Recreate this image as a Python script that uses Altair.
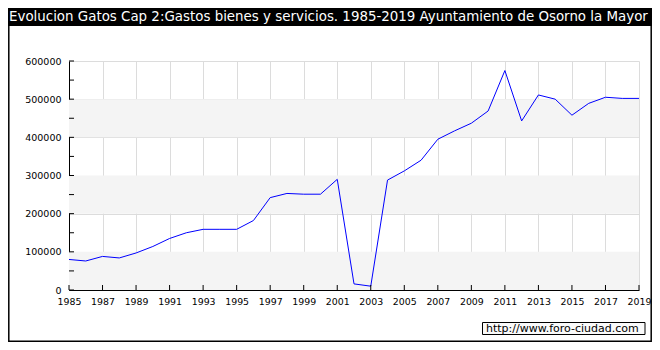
import altair as alt
import pandas as pd

years = list(range(1985, 2020))
values = [80000, 76000, 88000, 84000, 97000, 114000, 135000, 150000, 159000, 159000,
          159000, 182000, 242000, 253000, 251000, 251000, 290000, 16000, 10000, 288000,
          312000, 340000, 395000, 417000, 437000, 469000, 575000, 443000, 511000, 500000,
          458000, 489000, 505000, 502000, 502000]

title_text = "Evolucion Gatos Cap 2:Gastos bienes y servicios. 1985-2019 Ayuntamiento de Osorno la Mayor"
watermark = "http://www.foro-ciudad.com"

band_starts = [0, 200000, 400000]
band_ends = [100000, 300000, 500000]
x_tick_years = list(range(1985, 2020, 2))
y_tick_values = list(range(0, 600001, 50000))
y_label_values = list(range(0, 600001, 100000))

df = pd.DataFrame({"year": years, "value": values})
bands = pd.DataFrame({"y0": band_starts, "y1": band_ends,
                      "x0": [1985] * 3, "x1": [2019] * 3})
xt = pd.DataFrame({"year": x_tick_years})
yt = pd.DataFrame({"v": y_tick_values})
one = pd.DataFrame({"k": [0]})

W, H = 570, 229
PL, PT, PR, PB = 61, 53, 13, 52
FONT = "DejaVu Sans"

xscale = alt.Scale(domain=[1985, 2019], nice=False, zero=False)
yscale = alt.Scale(domain=[0, 600000], nice=False)

xaxis = alt.Axis(values=x_tick_years, tickCount=100, format="d", ticks=False, grid=True,
                 gridColor="#dcdcdc", gridWidth=1, domainColor="#000000",
                 domainWidth=1, labelFont=FONT, labelFontSize=9.4,
                 labelColor="#000000", labelPadding=7, title=None,
                 labelFlush=False, labelOverlap=False)
yaxis = alt.Axis(values=y_label_values, tickCount=100, format="d", ticks=False, grid=True,
                 gridColor="#dcdcdc", gridWidth=1, domainColor="#000000",
                 domainWidth=1, labelFont=FONT, labelFontSize=9.5,
                 labelColor="#000000", labelPadding=8, title=None,
                 labelOverlap=False)

band_layer = alt.Chart(bands).mark_rect(color="#f4f4f4").encode(
    x=alt.X("x0:Q", scale=xscale, axis=xaxis),
    x2="x1:Q",
    y=alt.Y("y0:Q", scale=yscale, axis=yaxis),
    y2="y1:Q",
)

line_layer = alt.Chart(df).mark_line(color="#0000ff", strokeWidth=1).encode(
    x=alt.X("year:Q", scale=xscale),
    y=alt.Y("value:Q", scale=yscale),
)

ytick_layer = alt.Chart(yt).mark_rule(color="#000000", strokeWidth=1).encode(
    y=alt.Y("v:Q", scale=yscale),
    x=alt.value(0), x2=alt.value(5),
)
xtick_layer = alt.Chart(xt).mark_rule(color="#000000", strokeWidth=1).encode(
    x=alt.X("year:Q", scale=xscale),
    y=alt.value(H - 5), y2=alt.value(H),
)

frame = alt.Chart(one).mark_rect(fill=None, stroke="#000000", strokeWidth=1.5).encode(
    x=alt.value(-PL + 0.8), x2=alt.value(W + PR - 0.8),
    y=alt.value(-PT), y2=alt.value(H + PB - 0.8),
)
title_bar = alt.Chart(one).mark_rect(color="#000000").encode(
    x=alt.value(-PL), x2=alt.value(W + PR), y=alt.value(-PT), y2=alt.value(-35),
)
title_mark = alt.Chart(one).mark_text(
    color="#ffffff", font=FONT, fontSize=13.4, align="left", baseline="middle"
).encode(x=alt.value(-PL + 1), y=alt.value(-44), text=alt.value(title_text))

wm_box = alt.Chart(one).mark_rect(fill="#fafafa", stroke="#000000", strokeWidth=1).encode(
    x=alt.value(413.5), x2=alt.value(576), y=alt.value(261.5), y2=alt.value(273.5),
)
wm_text = alt.Chart(one).mark_text(
    color="#000000", font=FONT, fontSize=11, align="left", baseline="middle"
).encode(x=alt.value(417), y=alt.value(267.5), text=alt.value(watermark))

chart = alt.layer(
    band_layer, line_layer, ytick_layer, xtick_layer,
    frame, title_bar, title_mark, wm_box, wm_text,
).properties(
    width=W, height=H,
    autosize=alt.AutoSizeParams(type="none"),
    padding={"left": PL, "top": PT, "right": PR, "bottom": PB},
    background="#ffffff",
).configure_view(stroke=None)

chart.save("out.html", embed_options={"renderer": "svg", "actions": False})
